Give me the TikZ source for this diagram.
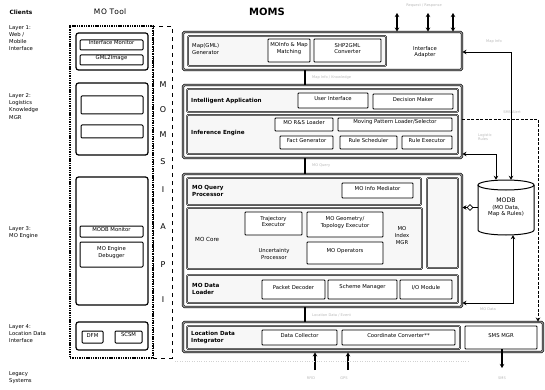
\documentclass[tikz,border=0pt]{standalone}
\usepackage{fontspec}
\setmainfont{DejaVu Sans}
\usetikzlibrary{fit,shapes.geometric,arrows.meta}
\newcommand{\fsz}{\fontsize{5.3}{6.4}\selectfont}
\newcommand{\bfsz}{\fontsize{5.6}{6.8}\selectfont\bfseries}
\newcommand{\lsz}{\fontsize{5.3}{7.3}\selectfont}
\newcommand{\tsz}{\fontsize{3.6}{4.2}\selectfont}
\newcommand{\mybox}[5][]{\node[#1, fit={#3 #4}, inner sep=0pt] (#2) {#5};}
\tikzset{
 outer/.style={draw, line width=0.9pt, double=white, double distance=0.6pt, rounded corners=1.5pt, fill=white},
 row/.style={draw, line width=0.5pt, double=gray!6, double distance=0.5pt, fill=gray!6, rounded corners=1pt},
 ibox/.style={draw, line width=0.9pt, fill=white, align=center, font=\fsz, rounded corners=0.8pt},
 tbox/.style={draw, line width=1.2pt, rounded corners=2.5pt},
 tibox/.style={draw, line width=1pt, fill=white, align=center, font=\fsz, rounded corners=1pt},
 motdash/.style={draw, line width=1.3pt, dash pattern=on 1.4pt off 0.9pt},
 apidash/.style={draw, line width=0.7pt, dash pattern=on 4pt off 4pt},
 lbl/.style={font=\fsz, align=left, inner sep=0pt},
 blbl/.style={font=\bfsz, align=left, inner sep=0pt},
 llbl/.style={font=\lsz, align=left, inner sep=0pt, anchor=north west},
 faint/.style={font=\tsz, text=gray!55, inner sep=0pt, align=left},
 letter/.style={font=\fontsize{8}{9}\selectfont, inner sep=0pt},
 conn/.style={line width=2.2pt},
 arr/.style={line width=0.9pt, -{Stealth[length=4pt,width=4.5pt]}},
 barr/.style={line width=1.2pt, {Stealth[length=4pt,width=4.5pt]}-{Stealth[length=4pt,width=4.5pt]}},
}
\begin{document}
\begin{tikzpicture}[x=1pt,y=-1pt]
\useasboundingbox (0,0) rectangle (545,390);
\fill[white] (0,0) rectangle (545,390);

% ---------- titles ----------
\node[font=\fontsize{5.8}{7}\selectfont\bfseries, inner sep=0pt] (clients) at (21,12) {Clients};
\node[font=\fontsize{7.5}{9}\selectfont, inner sep=0pt] (motooltitle) at (110,12) {M\kern1ptO T\kern0.3pto\kern0.3pto\kern0.3ptl};
\node[font=\fontsize{10}{12}\selectfont\bfseries, inner sep=0pt] (moms) at (267,12) {MOMS};

% ---------- left layer labels ----------
\node[llbl] (lay1) at (9,25) {Layer 1:\\Web /\\Mobile\\Interface};
\node[llbl] (lay2) at (9,93) {Layer 2:\\Logistics\\Knowledge\\MGR};
\node[llbl] (lay3) at (9,226) {Layer 3:\\MO Engine};
\node[llbl] (lay4) at (9,324) {Layer 4:\\Location Data\\Interface};
\node[llbl] (legacy) at (9,371) {Legacy\\Systems};

% ---------- MO Tool ----------
\node[motdash, fit={(70,26) (153,358)}, inner sep=0pt] (motool) {};
\node[apidash, fit={(153,26) (172,358)}, inner sep=0pt] (api) {};
\node[letter] (l1) at (163,85) {M};
\node[letter] (l2) at (163,110) {O};
\node[letter] (l3) at (163,135) {M};
\node[letter] (l4) at (163,162) {S};
\node[letter] (l5) at (163,190) {I};
\node[letter] (l6) at (163,227) {A};
\node[letter] (l7) at (163,265) {P};
\node[letter] (l8) at (163,300) {I};

\mybox[tbox]{tb1}{(76,33)}{(148,70)}{}
\mybox[tibox]{im}{(80,40)}{(143,50)}{Interface Monitor}
\mybox[tibox]{g2i}{(80,55)}{(143,65)}{GML2Image}
\mybox[tbox]{tb2}{(76,83)}{(148,155)}{}
\mybox[tibox]{e1}{(81,96)}{(143,114)}{}
\mybox[tibox]{e2}{(81,125)}{(143,138)}{}
\mybox[tbox]{tb3}{(76,177)}{(148,305)}{}
\mybox[tibox]{mm}{(80,226)}{(143,237)}{MODB Monitor}
\mybox[tibox]{med}{(80,242)}{(143,267)}{MO Engine\\Debugger}
\mybox[tbox]{tb4}{(76,322)}{(148,350)}{}
\mybox[tibox]{dfm}{(82,331)}{(103,343)}{DFM}
\mybox[tibox]{scsm}{(115,331)}{(142,343)}{SCSM}

% ---------- Layer 1 ----------
\mybox[outer]{L1}{(183,32)}{(462,70)}{}
\mybox[row]{L1in}{(188,36)}{(386,66)}{}
\node[blbl, anchor=west, font=\fsz] (mapgen) at (192,49) {Map(GML)\\Generator};
\mybox[ibox]{mapm}{(268,39)}{(310,62)}{MOInfo \& Map\\Matching}
\mybox[ibox]{shp}{(314,39)}{(381,62)}{SHP2GML\\Converter}
\node[lbl, align=center] (ia) at (425,52) {Interface\\Adapter};

% ---------- Layer 2 ----------
\mybox[outer]{L2}{(183,85)}{(462,158)}{}
\mybox[row]{iarow}{(187,89)}{(458,112)}{}
\node[blbl, anchor=west] (intapp) at (191,100.5) {Intelligent Application};
\mybox[ibox]{ui}{(298,93)}{(368,108)}{User Interface}
\mybox[ibox]{dm}{(373,94)}{(453,109)}{Decision Maker}
\mybox[row]{ierow}{(187,115)}{(458,154)}{}
\node[blbl, anchor=west] (infeng) at (191,133) {Inference Engine};
\mybox[ibox]{rsl}{(275,118)}{(333,131)}{MO R\&S Loader}
\mybox[ibox]{mpl}{(338,118)}{(452,131)}{Moving Pattern Loader/Selector}
\mybox[ibox]{fg}{(280,136)}{(333,149)}{Fact Generator}
\mybox[ibox]{rs}{(340,136)}{(397,149)}{Rule Scheduler}
\mybox[ibox]{re}{(402,136)}{(452,149)}{Rule Executor}

% ---------- Layer 3 ----------
\mybox[outer]{L3}{(183,174)}{(462,307)}{}
\mybox[row]{qrow}{(187,178)}{(421,205)}{}
\node[blbl, anchor=west] (mqp) at (192,191) {MO Query\\Processor};
\mybox[ibox]{mim}{(342,183)}{(413,198)}{MO Info Mediator}
\mybox[row]{rpanel}{(427,178)}{(458,268)}{}
\mybox[row]{core}{(187,208)}{(422,269)}{}
\node[lbl, anchor=west, font=\fontsize{5.6}{6.6}\selectfont] (mocore) at (195,239) {MO Core};
\mybox[ibox]{te}{(245,212)}{(302,235)}{Trajectory\\Executor}
\mybox[ibox]{mgt}{(307,212)}{(383,237)}{MO Geometry/\\Topology Executor}
\node[lbl, align=center] (up) at (274,254) {Uncertainty\\Processor};
\mybox[ibox]{mop}{(307,242)}{(383,264)}{MO Operators}
\node[lbl, align=center, font=\fontsize{5.3}{7}\selectfont] (mim2) at (402,236) {MO\\Index\\MGR};
\mybox[row]{dlrow}{(187,275)}{(458,303)}{}
\node[blbl, anchor=west] (mdl) at (192,289) {MO Data\\Loader};
\mybox[ibox]{pd}{(262,280)}{(325,299)}{Packet Decoder}
\mybox[ibox]{sm}{(328,280)}{(397,299)}{Scheme Manager}
\mybox[ibox]{io}{(400,280)}{(452,299)}{I/O Module}

% ---------- Layer 4 ----------
\mybox[outer]{L4}{(183,322)}{(543,352)}{}
\mybox[row]{ldrow}{(187,326)}{(460,349)}{}
\node[blbl, anchor=west] (ldi) at (191,337.5) {Location Data\\Integrator};
\mybox[ibox]{dc}{(262,330)}{(337,345)}{Data Collector}
\mybox[ibox]{cc}{(342,330)}{(455,345)}{Coordinate Converter**}
\mybox[ibox]{sms}{(465,326)}{(537,349)}{SMS MGR}

% ---------- MODB ----------
\node[inner sep=0pt, minimum width=56pt, minimum height=55pt, align=center, font=\fontsize{5.4}{6.6}\selectfont] (MODB) at (506,207.5) {\fontsize{6.2}{7}\selectfont MODB\\(MO Data,\\Map \& Rules)};
\draw[line width=1pt] (478,185) -- (478,230) arc[start angle=180, end angle=0, x radius=28, y radius=5] -- (534,185);
\draw[line width=1pt] (506,185) ellipse [x radius=28, y radius=5];

% ---------- connectors between layers ----------
\coordinate (cx) at (305,0);
\draw[conn] (L1.south -| cx) -- (L2.north -| cx);
\draw[conn] (L2.south -| cx) -- (L3.north -| cx);
\draw[conn] (L3.south -| cx) -- (L4.north -| cx);
\node[faint, anchor=west] (t12) at (312,77.5) {Map Info / Knowledge};
\node[faint, anchor=west] (t23) at (312,166) {MO Query};
\node[faint, anchor=west] (t34) at (312,315) {Location Data / Event};

% ---------- top client arrows ----------
\coordinate (a1) at (397,13);
\coordinate (a2) at (428,13);
\coordinate (a3) at (453,13);
\draw[barr] (a1) -- (a1 |- L1.north);
\draw[barr] (a2) -- (a2 |- L1.north);
\draw[barr] (a3) -- (a3 |- L1.north);
\node[faint] (ttop) at (424,6) {Request / Response};

% ---------- MODB connections ----------
\coordinate (ta) at (511,52);
\draw[line width=0.9pt, {Stealth[length=4pt,width=4.5pt]}-{Stealth[length=4pt,width=4.5pt]}] (L1.east |- ta) -- (ta) -- (ta |- MODB.north);
\node[faint] (tmap) at (494,42) {Map Info};
\coordinate (sa) at (496,154);
\draw[line width=0.9pt, {Stealth[length=4pt,width=4.5pt]}-{Stealth[length=4pt,width=4.5pt]}] (L2.east |- sa) -- (sa) -- (sa |- MODB.north);
\node[faint] (tlog) at (485,137) {Logistic\\Rules};
\coordinate (ba) at (513,303);
\draw[line width=0.9pt, {Stealth[length=4pt,width=4.5pt]}-{Stealth[length=4pt,width=4.5pt]}] (ba |- MODB.south) -- (ba) -- (L3.east |- ba);
\node[faint] (tld) at (488,309) {MO Data};
\node[diamond, draw, fill=white, inner sep=0pt, minimum size=6pt, line width=0.8pt] (jn) at (470,207.5) {};
\draw[arr] (jn) -- (L3.east |- jn);
\draw[line width=0.9pt] (jn) -- (MODB.west);

% ---------- dashed SMS line ----------
\coordinate (da) at (538,119);
\draw[line width=0.9pt, dash pattern=on 3pt off 1.5pt, -{Stealth[length=4pt,width=4.5pt]}] (L2.east |- da) -- (da) -- (da |- L4.north);
\node[faint] (tsms) at (512,112) {SMS Alert};

% ---------- bottom arrows ----------
\coordinate (b1) at (315,370);
\coordinate (b2) at (348,370);
\draw[arr, line width=1.2pt] (b1) -- (b1 |- L4.south);
\draw[arr, line width=1.2pt] (b2) -- (b2 |- L4.south);
\coordinate (b3) at (502,368);
\draw[arr, line width=1.2pt] (b3 |- sms.south) -- (b3);
\node[faint] (trfid) at (311,378) {RFID};
\node[faint] (tgps) at (344,378) {GPS};
\node[faint] (tsmsb) at (502,378) {SMS};
\draw[gray!35, dotted] (175,361) -- (470,361);
\end{tikzpicture}
\end{document}
